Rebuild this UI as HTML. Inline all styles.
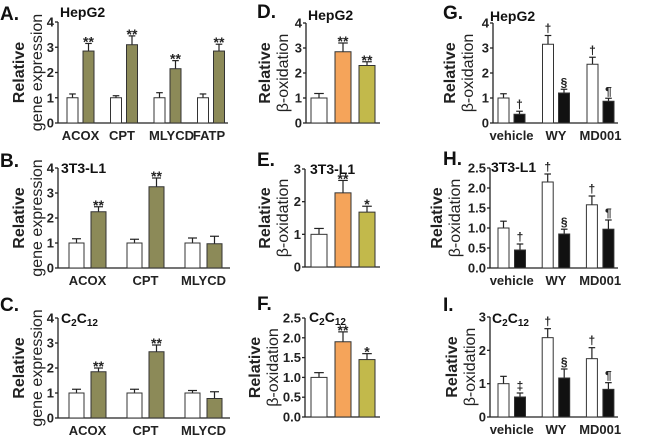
<!DOCTYPE html>
<html><head><meta charset="utf-8"><style>
html,body{margin:0;padding:0;background:#fff}
svg{display:block;font-family:"Liberation Sans",Arial,sans-serif}
</style></head><body>
<svg id="fig" width="660" height="436" viewBox="0 0 660 436"></svg>
<script>
// ---- data ----
const geneCatsA = ["ACOX","CPT","MLYCD","FATP"];
const aVehicle = [1,1,1,1];
const aVehicleErr = [0.15,0.08,0.2,0.15];
const aMD = [2.85,3.1,2.15,2.85];
const aMDErr = [0.3,0.35,0.32,0.27];
const aSig = ["**","**","**","**"];

const geneCatsBC = ["ACOX","CPT","MLYCD"];
const bVehicle = [1,1,1];
const bVehicleErr = [0.17,0.15,0.2];
const bMD = [2.25,3.25,0.97];
const bMDErr = [0.2,0.35,0.3];
const bSig = ["**","**",""];

const cVehicle = [1,1,1];
const cVehicleErr = [0.15,0.15,0.1];
const cMD = [1.85,2.65,0.78];
const cMDErr = [0.15,0.27,0.27];
const cSig = ["**","**",""];

const treatCats = ["vehicle","WY","MD001"];
const dValues = [1,2.85,2.3];
const dErr = [0.18,0.35,0.15];
const dSig = ["","**","**"];
const eValues = [1,2.27,1.68];
const eErr = [0.18,0.38,0.18];
const eSig = ["","**","*"];
const fValues = [1,1.9,1.45];
const fErr = [0.12,0.25,0.15];
const fSig = ["","**","*"];

const gCon = [1,3.15,2.35];
const gConErr = [0.17,0.35,0.28];
const gSi = [0.35,1.2,0.87];
const gSiErr = [0.12,0.15,0.12];
const gConSig = ["","†","†"];
const gSiSig = ["†","§","¶"];
const hCon = [1,2.15,1.58];
const hConErr = [0.17,0.2,0.22];
const hSi = [0.45,0.85,0.97];
const hSiErr = [0.15,0.12,0.23];
const hConSig = ["","†","†"];
const hSiSig = ["†","§","¶"];
const iCon = [1,2.38,1.75];
const iConErr = [0.22,0.27,0.33];
const iSi = [0.6,1.17,0.83];
const iSiErr = [0.12,0.27,0.2];
const iConSig = ["","†","†"];
const iSiSig = ["‡","§","¶"];

const ticks4 = [0,1,2,3,4];
const ticks3 = [0,1,2,3];
const ticks25 = [0,0.5,1,1.5,2,2.5];

const OLIVE="#8c8a58", ORANGE="#f5a45a", YOLIVE="#c2b94b";
const NS="http://www.w3.org/2000/svg";
const svg=document.getElementById('fig');

function mk(tag,attrs,parent,text){
  const e=document.createElementNS(NS,tag);
  for(const k in attrs)e.setAttribute(k,attrs[k]);
  if(text!==undefined)e.textContent=text;
  (parent||svg).appendChild(e);return e;
}

function panel(p){
  const g=mk('g',{});
  
  
  const ys=v=>p.y0-(v/p.max)*(p.y0-p.yTop);
  const ya=mk('line',{x1:p.ax,y1:p.yTop,x2:p.ax,y2:p.y0,stroke:'#222','stroke-width':1.3},g);
  
  const xa=mk('line',{x1:p.ax,y1:p.y0,x2:p.xEnd,y2:p.y0,stroke:'#222','stroke-width':1.3},g);
  
  p.ticks.forEach(t=>{
    const y=ys(t);
    mk('line',{x1:p.ax-3,y1:y,x2:p.ax,y2:y,stroke:'#222','stroke-width':1.3},g);
    const tl=mk('text',{x:p.ax-4,y:y+4.5,'text-anchor':'end','font-size':13,'font-weight':'bold',fill:'#222'},g,p.fmt(t));
    
  });
  p.series.forEach((s,si)=>{
    s.vals.forEach((v,i)=>{
      const x=p.start+i*p.step+si*p.off;
      const top=ys(v);
      const eTop=ys(v+s.err[i]);
      const cx=x+p.bw/2;
      mk('line',{x1:cx,y1:top,x2:cx,y2:eTop,stroke:'#222','stroke-width':1.2},g);
      mk('line',{x1:cx-p.bw*0.3,y1:eTop,x2:cx+p.bw*0.3,y2:eTop,stroke:'#222','stroke-width':1.2},g);
      const r=mk('rect',{x:x,y:top,width:p.bw,height:p.y0-top,fill:s.color,stroke:'#333','stroke-width':1},g);
      
      
      if(s.sig&&s.sig[i]){
        const st=mk('text',{x:cx,y:eTop-(s.sig[i].indexOf('*')>=0?-3:3),'text-anchor':'middle','font-size':s.sig[i].indexOf('*')>=0?14:12,'font-weight':'bold',fill:'#222'},g,s.sig[i]);
        
      }
    });
  });
  if(p.cats){
    p.cats.forEach((c,i)=>{
      const cx=p.start+i*p.step+(p.off*(p.series.length-1)+p.bw)/2;
      const cl=mk('text',{x:cx+(p.catShift?p.catShift[i]:0),y:p.y0+17,'text-anchor':'middle','font-size':13,'font-weight':'bold',fill:'#222'},g,c);
      
    });
  }
  const cy=(p.y0+p.yTop)/2;
  const t1=mk('text',{x:0,y:0,transform:`translate(${p.tx1},${cy}) rotate(-90)`,'text-anchor':'middle','font-size':16,'font-weight':'bold',fill:'#222'},g,'Relative');
  
  const t2=mk('text',{x:0,y:0,transform:`translate(${p.tx1+18},${cy}) rotate(-90)`,'text-anchor':'middle','font-size':16,'font-weight':'normal',fill:'#222'},g,p.title2);
  
  const pl=mk('text',{x:p.lx,y:p.ly,'font-size':19,'font-weight':'bold',fill:'#111'},g,p.letter);
  
  const ct=mk('text',{x:p.cx,y:p.cyy,'font-size':14,'font-weight':'bold',fill:'#111'},g);
  
  if(p.cell==='C2C12'){
    ct.appendChild(document.createTextNode('C'));
    mk('tspan',{'font-size':10,dy:3},ct,'2');
    mk('tspan',{dy:-3},ct,'C');
    mk('tspan',{'font-size':10,dy:3},ct,'12');
  } else ct.textContent=p.cell;
}

const f0=t=>String(t), f1=t=>t.toFixed(1);

panel({name:'panel-a',letter:'A.',lx:0,ly:20,cell:'HepG2',cx:60,cyy:17,ax:58,y0:123,yTop:22,max:4,ticks:ticks4,fmt:f0,xEnd:228,
  start:67,step:43.5,off:16,bw:11,cats:geneCatsA,catShift:[0,-2,4,-2],tx1:24,title2:'gene expression',
  series:[{key:'vehicle',vals:aVehicle,err:aVehicleErr,color:'#fff'},{key:'md001',vals:aMD,err:aMDErr,color:OLIVE,sig:aSig}]});
panel({name:'panel-b',letter:'B.',lx:0,ly:167,cell:'3T3-L1',cx:61,cyy:173,ax:58,y0:268,yTop:168,max:4,ticks:ticks4,fmt:f0,xEnd:230,
  start:69,step:58,off:22,bw:15,cats:geneCatsBC,tx1:24,title2:'gene expression',
  series:[{key:'vehicle',vals:bVehicle,err:bVehicleErr,color:'#fff'},{key:'md001',vals:bMD,err:bMDErr,color:OLIVE,sig:bSig}]});
panel({name:'panel-c',letter:'C.',lx:0,ly:311,cell:'C2C12',cx:61,cyy:323,ax:58,y0:418,yTop:318,max:4,ticks:ticks4,fmt:f0,xEnd:230,
  start:69,step:58,off:22,bw:15,cats:geneCatsBC,tx1:24,title2:'gene expression',
  series:[{key:'vehicle',vals:cVehicle,err:cVehicleErr,color:'#fff'},{key:'md001',vals:cMD,err:cMDErr,color:OLIVE,sig:cSig}]});

panel({name:'panel-d',letter:'D.',lx:257,ly:18,cell:'HepG2',cx:308,cyy:20,ax:306,y0:123,yTop:23,max:4,ticks:ticks4,fmt:f0,xEnd:380,
  start:311,step:0,off:24,bw:16,tx1:270,title2:'β-oxidation',
  series:[{key:'vehicle',vals:[dValues[0]],err:[dErr[0]],color:'#fff',sig:[dSig[0]]},{key:'wy',vals:[dValues[1]],err:[dErr[1]],color:ORANGE,sig:[dSig[1]]},{key:'md001',vals:[dValues[2]],err:[dErr[2]],color:YOLIVE,sig:[dSig[2]]}]});
panel({name:'panel-e',letter:'E.',lx:257,ly:166,cell:'3T3-L1',cx:310,cyy:174,ax:305,y0:267,yTop:169,max:3,ticks:ticks3,fmt:f0,xEnd:380,
  start:311,step:0,off:24,bw:16,tx1:270,title2:'β-oxidation',
  series:[{key:'vehicle',vals:[eValues[0]],err:[eErr[0]],color:'#fff',sig:[eSig[0]]},{key:'wy',vals:[eValues[1]],err:[eErr[1]],color:ORANGE,sig:[eSig[1]]},{key:'md001',vals:[eValues[2]],err:[eErr[2]],color:YOLIVE,sig:[eSig[2]]}]});
panel({name:'panel-f',letter:'F.',lx:257,ly:310,cell:'C2C12',cx:309,cyy:322,ax:305,y0:417,yTop:318,max:2.5,ticks:ticks25,fmt:f1,xEnd:380,
  start:311,step:0,off:24,bw:16,tx1:260,title2:'β-oxidation',
  series:[{key:'vehicle',vals:[fValues[0]],err:[fErr[0]],color:'#fff',sig:[fSig[0]]},{key:'wy',vals:[fValues[1]],err:[fErr[1]],color:ORANGE,sig:[fSig[1]]},{key:'md001',vals:[fValues[2]],err:[fErr[2]],color:YOLIVE,sig:[fSig[2]]}]});

panel({name:'panel-g',letter:'G.',lx:443,ly:19,cell:'HepG2',cx:490,cyy:21,ax:493,y0:123,yTop:23,max:4,ticks:ticks4,fmt:f0,xEnd:618,
  start:498,step:44.5,off:16,bw:11,cats:treatCats,tx1:455,title2:'β-oxidation',
  series:[{key:'con',vals:gCon,err:gConErr,color:'#fff',sig:gConSig},{key:'si-ppara',vals:gSi,err:gSiErr,color:'#111',sig:gSiSig}]});
panel({name:'panel-h',letter:'H.',lx:443,ly:165,cell:'3T3-L1',cx:491,cyy:172,ax:490,y0:268,yTop:168,max:2.5,ticks:ticks25,fmt:f1,xEnd:618,
  start:498,step:44.2,off:16.5,bw:11,cats:treatCats,tx1:442,title2:'β-oxidation',
  series:[{key:'con',vals:hCon,err:hConErr,color:'#fff',sig:hConSig},{key:'si-ppara',vals:hSi,err:hSiErr,color:'#111',sig:hSiSig}]});
panel({name:'panel-i',letter:'I.',lx:443,ly:311,cell:'C2C12',cx:492,cyy:323,ax:490,y0:417,yTop:317,max:3,ticks:ticks3,fmt:f0,xEnd:618,
  start:498,step:44.2,off:16.5,bw:11,cats:treatCats,tx1:457,title2:'β-oxidation',
  series:[{key:'con',vals:iCon,err:iConErr,color:'#fff',sig:iConSig},{key:'si-ppara',vals:iSi,err:iSiErr,color:'#111',sig:iSiSig}]});
</script>
<svg width="0" height="0" style="position:absolute;left:0;top:0;overflow:visible">
<g font-family="Liberation Sans, Arial, sans-serif" font-size="13" fill="#222">
 <rect x="110" y="15" width="14" height="9" fill="#fff" stroke="#333"/>
 <text x="129" y="24">vehicle</text>
 <rect x="182" y="15" width="18" height="9" fill="#8c8a58" stroke="#333"/>
 <text x="204" y="24">MD001</text>
</g>
<g font-family="Liberation Sans, Arial, sans-serif" font-size="13" fill="#222">
 <rect x="362" y="12" width="15" height="8" fill="#fff" stroke="#333"/>
 <text x="383" y="20">vehicle</text>
 <rect x="362" y="25" width="15" height="8" fill="#f5a45a" stroke="#333"/>
 <text x="383" y="33">WY</text>
 <rect x="362" y="38" width="15" height="8" fill="#c2b94b" stroke="#333"/>
 <text x="383" y="46">MD001</text>
</g>
<g font-family="Liberation Sans, Arial, sans-serif" font-size="13" fill="#222">
 <rect x="565" y="8" width="15" height="7" fill="#fff" stroke="#333"/>
 <text x="582" y="15">con</text>
 <rect x="565" y="18" width="15" height="7" fill="#111" stroke="#333"/>
 <text x="582" y="25">PPARα</text>
 <line x1="616" y1="12" x2="616" y2="28" stroke="#222" stroke-width="1"/>
 <text x="618" y="24">Si-RNA</text>
</g>
</svg>
</body></html>
